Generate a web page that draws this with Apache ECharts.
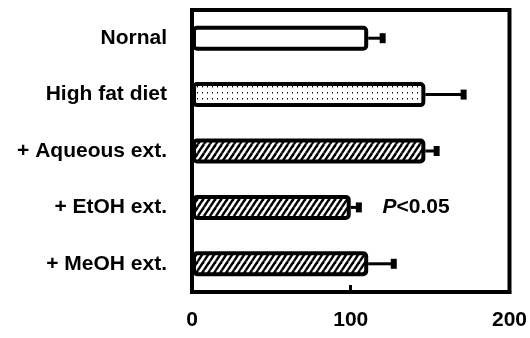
<!DOCTYPE html>
<html>
<head>
<meta charset="utf-8">
<script src="https://cdn.jsdelivr.net/npm/echarts@6/dist/echarts.min.js"></script>
<style>html,body{margin:0;padding:0;background:#fff;}#c{width:530px;height:338px;}</style>
</head>
<body>
<div id="c"></div>
<script>
const categories = ['Nornal', 'High fat diet', '+ Aqueous ext.', '+ EtOH ext.', '+ MeOH ext.'];
const means = [111, 147, 147, 100, 111];
const errorTops = [122, 173, 156, 107, 129];
const fills = ['plain', 'dots', 'hatch', 'hatch', 'hatch'];
const xTicks = [0, 100, 200];
const annotations = [{category: '+ EtOH ext.', value: 120, text: '{i|P}<0.05'}];

function makeHatch() {
  const w = 6, h = 9;
  const c = document.createElement('canvas');
  c.width = w; c.height = h;
  const g = c.getContext('2d');
  g.fillStyle = '#fff'; g.fillRect(0, 0, w, h);
  g.strokeStyle = '#000'; g.lineWidth = 2.4;
  for (let dx = -w; dx <= w; dx += w) {
    for (let dy = -h; dy <= h; dy += h) {
      g.beginPath(); g.moveTo(dx, h + dy); g.lineTo(w + dx, dy); g.stroke();
    }
  }
  return c;
}
function makeDots() {
  const w = 5, h = 6;
  const c = document.createElement('canvas');
  c.width = w; c.height = h;
  const g = c.getContext('2d');
  g.fillStyle = '#fff'; g.fillRect(0, 0, w, h);
  g.fillStyle = '#000'; g.fillRect(2, 2, 1, 1);
  g.fillStyle = '#888'; g.fillRect(2, 3, 1, 1);
  return c;
}
const patterns = {
  plain: '#fff',
  dots: {image: makeDots(), repeat: 'repeat'},
  hatch: {image: makeHatch(), repeat: 'repeat'}
};

const barData = means.map((v, i) => ({value: v, itemStyle: {color: patterns[fills[i]]}}));
const errData = means.map((v, i) => [v, i, errorTops[i]]);
const annData = annotations.map(a => [a.value, categories.indexOf(a.category), a.text]);

const chart = echarts.init(document.getElementById('c'), null, {renderer: 'canvas'});
chart.setOption({
  animation: false,
  grid: {left: 192, right: 19, top: 10, bottom: 46, show: true, borderColor: '#000', borderWidth: 4, backgroundColor: 'transparent'},
  xAxis: {
    type: 'value', min: 0, max: 200, interval: 100,
    splitLine: {show: false},
    axisLine: {show: true, lineStyle: {color: '#000', width: 4}},
    axisTick: {show: true, inside: true, length: 7, lineStyle: {color: '#000', width: 3}},
    axisLabel: {
      margin: 18, color: '#000', fontSize: 21, fontWeight: 'bold',
      fontFamily: '"Liberation Sans Narrow", "Liberation Sans", Arial, sans-serif',
      formatter: v => xTicks.includes(v) ? String(v) : ''
    }
  },
  yAxis: {
    type: 'category', data: categories, inverse: true,
    axisLine: {show: true, lineStyle: {color: '#000', width: 4}},
    axisTick: {show: false},
    axisLabel: {
      margin: 25, color: '#000', fontSize: 21, fontWeight: 'bold',
      fontFamily: '"Liberation Sans", Arial, sans-serif'
    }
  },
  series: [
    {
      type: 'bar', data: barData, barWidth: 25, z: 3,
      itemStyle: {borderColor: '#000', borderWidth: 4, borderRadius: 3}
    },
    {
      type: 'custom', z: 2,
      data: errData,
      renderItem: function (params, api) {
        const s = api.coord([api.value(0), api.value(1)]);
        const e = api.coord([api.value(2), api.value(1)]);
        return {
          type: 'group',
          children: [
            {type: 'line', shape: {x1: s[0], y1: s[1], x2: e[0] - 3, y2: e[1]}, style: {stroke: '#000', lineWidth: 3}},
            {type: 'rect', shape: {x: e[0] - 6, y: e[1] - 5, width: 6, height: 10}, style: {fill: '#000'}}
          ]
        };
      }
    },
    {
      type: 'custom', z: 4,
      data: annData,
      renderItem: function (params, api) {
        const p = api.coord([api.value(0), api.value(1)]);
        return {
          type: 'text', x: p[0], y: p[1],
          style: {
            text: annotations[params.dataIndex].text,
            fill: '#000', fontSize: 21, fontWeight: 'bold',
            fontFamily: '"Liberation Sans", Arial, sans-serif',
            verticalAlign: 'middle', align: 'left',
            rich: {i: {fontStyle: 'italic', fontSize: 21, fontWeight: 'bold', fontFamily: '"Liberation Sans", Arial, sans-serif'}}
          }
        };
      }
    }
  ]
});
</script>
</body>
</html>
